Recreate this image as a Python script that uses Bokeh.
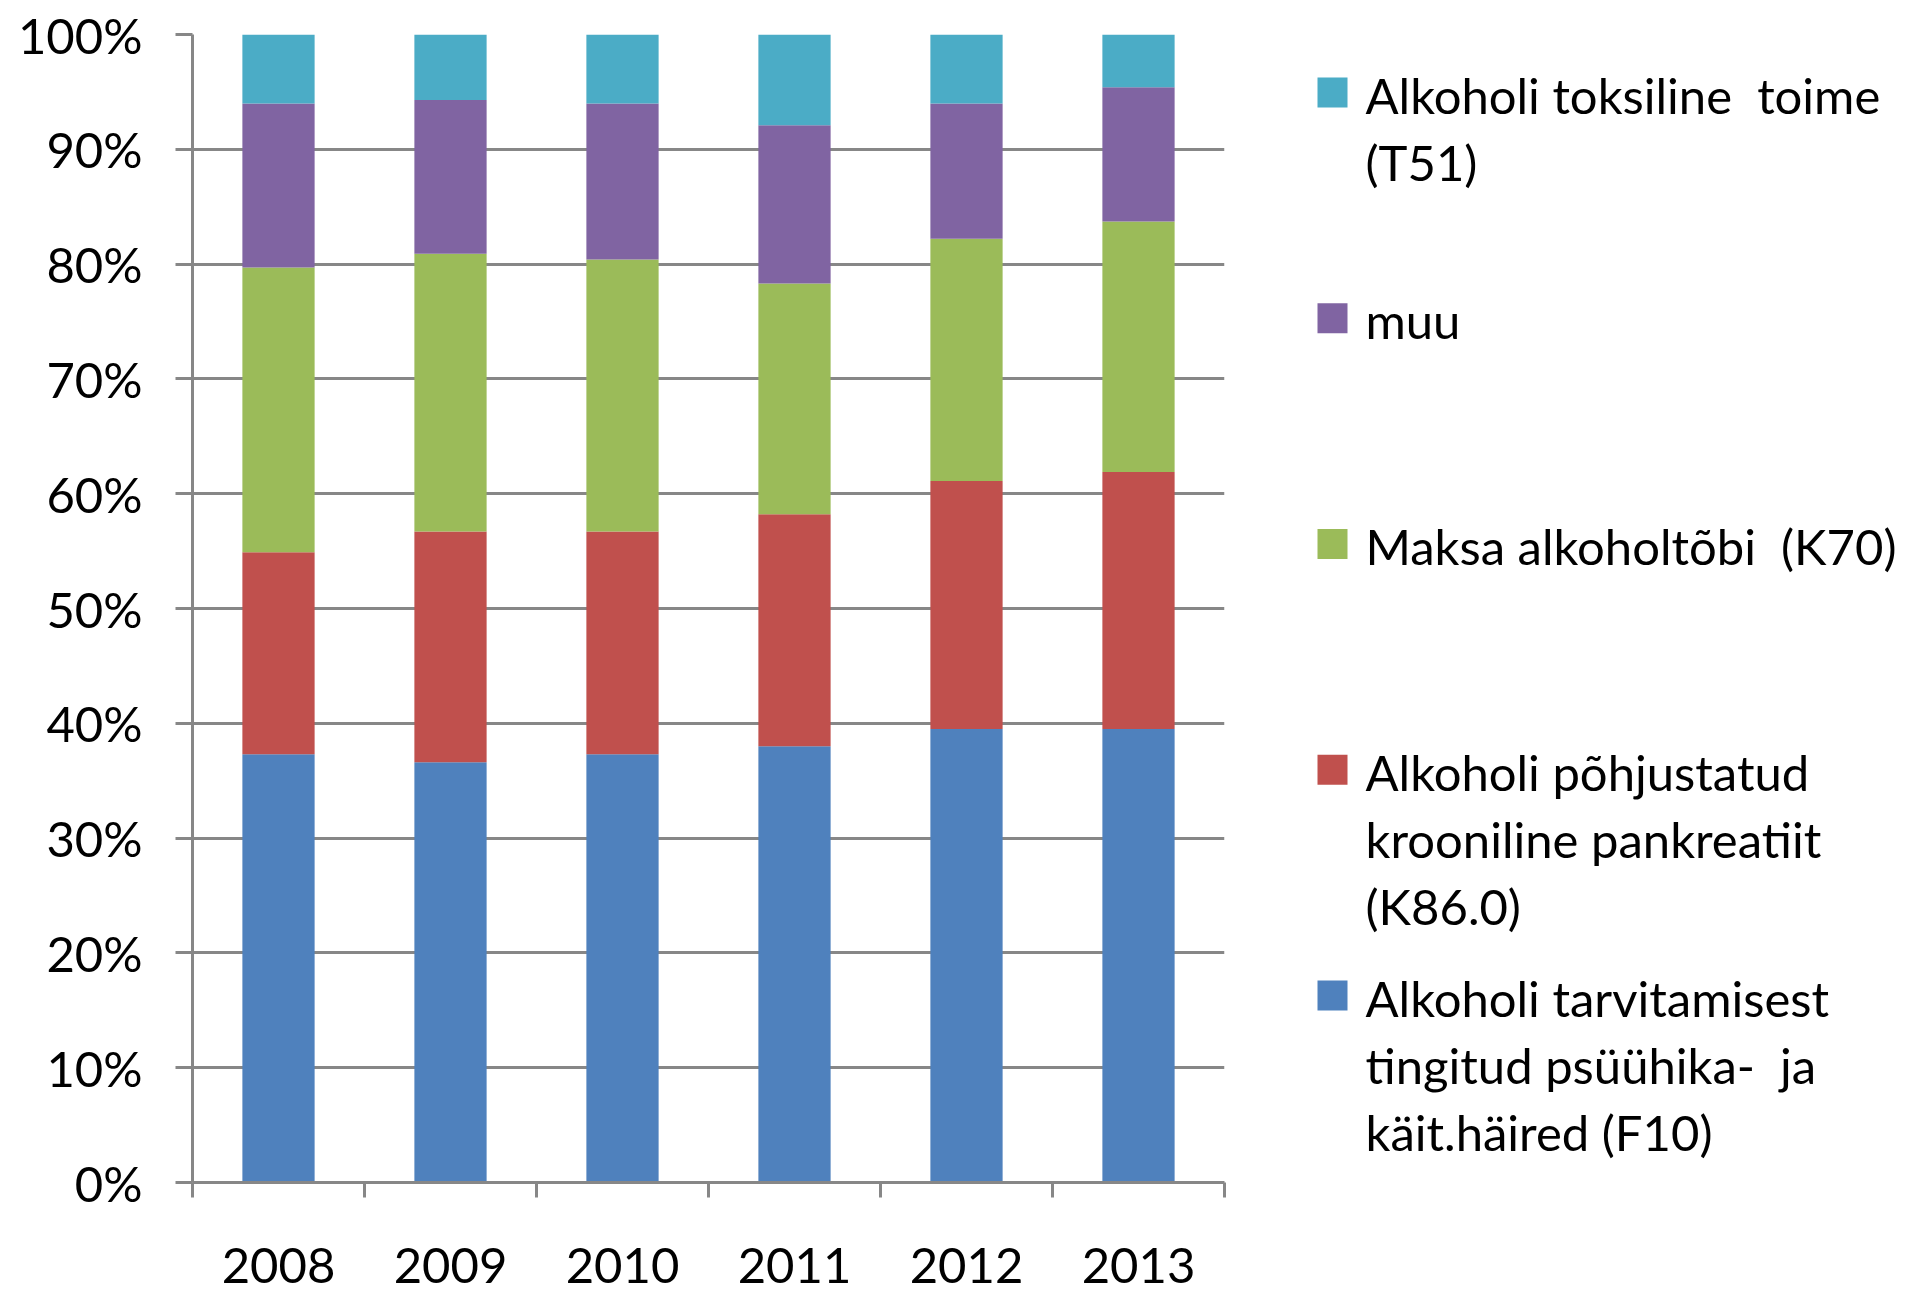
from bokeh.plotting import figure
from bokeh.layouts import row
from bokeh.models import Range1d, FixedTicker, ColumnDataSource
from bokeh.core.properties import value
from bokeh.embed import file_html
from bokeh.resources import INLINE

# ---- data (shares in %, stacked bottom -> top) ----
years = ["2008", "2009", "2010", "2011", "2012", "2013"]
f10 = [37.3, 36.6, 37.3, 38.0, 39.5, 39.5]   # Alkoholi tarvitamisest tingitud ... (F10)
k86 = [17.6, 20.1, 19.4, 20.2, 21.6, 22.4]   # Alkoholi põhjustatud krooniline pankreatiit (K86.0)
k70 = [24.8, 24.2, 23.7, 20.1, 21.1, 21.8]   # Maksa alkoholtõbi (K70)
muu = [14.3, 13.4, 13.6, 13.8, 11.8, 11.7]   # muu
t51 = [6.0, 5.7, 6.0, 7.9, 6.0, 4.6]         # Alkoholi toksiline toime (T51)

y_ticks = list(range(0, 101, 10))
y_tick_labels = [f"{v}%" for v in y_ticks]

series_keys = ["f10", "k86", "k70", "muu", "t51"]
colors = ["#4F81BD", "#C0504D", "#9BBB59", "#8064A2", "#4BACC6"]

legend_lines = [
    ["Alkoholi toksiline\u00a0 toime", "(T51)"],
    ["muu"],
    ["Maksa alkoholtõbi\u00a0 (K70)"],
    ["Alkoholi põhjustatud", "krooniline pankreatiit", "(K86.0)"],
    ["Alkoholi tarvitamisest", "tingitud psüühika-\u00a0 ja", "käit.häired (F10)"],
]
legend_colors = ["#4BACC6", "#8064A2", "#9BBB59", "#C0504D", "#4F81BD"]

FONT = "Lato"
FS = "49px"
GRAY = "#878787"

# layout (pixels)
H = 1296
MAIN_W = 1290
LEG_W = 620
F_LEFT, F_RIGHT, F_TOP, F_BOTTOM = 192, 1224, 34, 1182

# ---- main chart ----
xs = [i + 0.5 for i in range(len(years))]
src = ColumnDataSource(dict(x=xs, f10=f10, k86=k86, k70=k70, muu=muu, t51=t51))

p = figure(width=MAIN_W, height=H, x_range=Range1d(0, len(years)), y_range=Range1d(0, 100),
           output_backend="svg", toolbar_location=None, tools="",
           min_border_left=F_LEFT, min_border_right=MAIN_W - F_RIGHT,
           min_border_top=F_TOP, min_border_bottom=H - F_BOTTOM)
p.outline_line_color = None
p.background_fill_color = "white"
p.border_fill_color = "white"

p.vbar_stack(series_keys, x="x", width=0.42, color=colors, line_color=None, source=src)

p.xgrid.visible = False
p.ygrid.grid_line_color = GRAY
p.ygrid.grid_line_width = 3
p.ygrid.ticker = FixedTicker(ticks=y_ticks)

yax = p.yaxis[0]
yax.ticker = FixedTicker(ticks=y_ticks)
yax.major_label_overrides = {t: l for t, l in zip(y_ticks, y_tick_labels)}
yax.axis_line_color = GRAY
yax.axis_line_width = 3
yax.major_tick_line_color = GRAY
yax.major_tick_line_width = 3
yax.major_tick_in = 0
yax.major_tick_out = 17
yax.minor_tick_line_color = None
yax.major_label_standoff = 33
yax.major_label_text_font = FONT
yax.major_label_text_font_size = FS
yax.major_label_text_color = "black"

xax = p.xaxis[0]
xax.ticker = FixedTicker(ticks=xs, minor_ticks=list(range(len(years) + 1)))
xax.major_label_overrides = {x: y for x, y in zip(xs, years)}
xax.axis_line_color = GRAY
xax.axis_line_width = 3
xax.major_tick_line_color = None
xax.major_tick_in = 0
xax.major_tick_out = 0
xax.minor_tick_line_color = GRAY
xax.minor_tick_line_width = 3
xax.minor_tick_in = 0
xax.minor_tick_out = 15
xax.major_label_standoff = 50
xax.major_label_text_font = FONT
xax.major_label_text_font_size = FS
xax.major_label_text_color = "black"

# ---- legend panel (frame aligned with main frame; data coords = page pixels) ----
lg = figure(width=LEG_W, height=H, x_range=Range1d(MAIN_W, MAIN_W + LEG_W),
            y_range=Range1d(F_BOTTOM, F_TOP),
            output_backend="svg", toolbar_location=None, tools="",
            x_axis_location=None, y_axis_location=None,
            min_border_left=0, min_border_right=0,
            min_border_top=F_TOP, min_border_bottom=H - F_BOTTOM)
lg.outline_line_color = None
lg.grid.visible = False
lg.background_fill_color = "white"
lg.border_fill_color = "white"

first_top, pitch, sq, sq_x, txt_x, base_off, line_h = 77, 225.75, 30, 1332, 1365, 17, 67
sq_x_list, sq_y_list = [], []
tx, ty, tt = [], [], []
for i, lines in enumerate(legend_lines):
    top = first_top + i * pitch
    sq_x_list.append(sq_x)
    sq_y_list.append(top + sq / 2)
    for j, line in enumerate(lines):
        tx.append(txt_x)
        ty.append(top + base_off + j * line_h)
        tt.append(line)

lg.rect(x=sq_x_list, y=sq_y_list, width=sq, height=sq, fill_color=legend_colors, line_color=None)
lg.text(x=tx, y=ty, text=tt, text_font=value(FONT), text_font_size=FS,
        text_baseline="alphabetic", text_align="left", text_color="black")

layout = row(p, lg)
open("out.html", "w").write(file_html(layout, INLINE))
